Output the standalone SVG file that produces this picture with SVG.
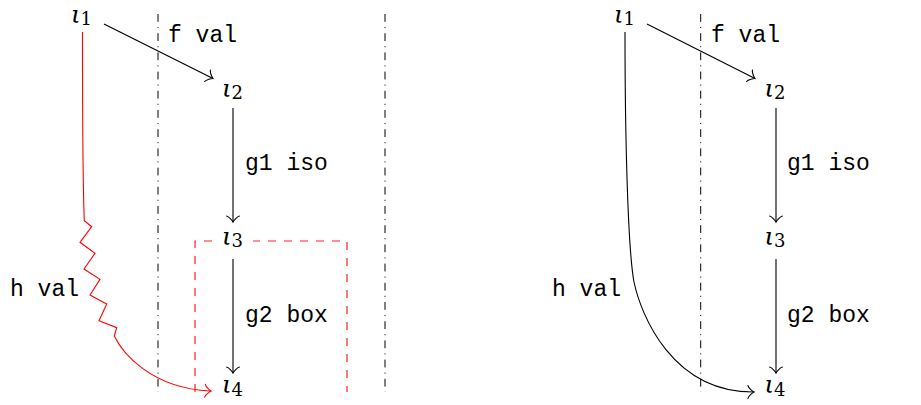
<svg xmlns="http://www.w3.org/2000/svg" width="921" height="405" viewBox="0 0 921 405">
<style>
.iota{font-family:"DejaVu Serif","Liberation Serif",serif;font-style:italic;font-size:24.5px;fill:#000}
.sub{font-family:"DejaVu Serif","Liberation Serif",serif;font-size:18px;fill:#000}
.tt{font-family:"Liberation Mono","DejaVu Sans Mono",monospace;font-size:23px;fill:#000}
.ln{fill:none;stroke:#000;stroke-width:1.1}
.red{fill:none;stroke:#ff0000;stroke-width:1.1}
.dd{fill:none;stroke:#000;stroke-width:1;stroke-dasharray:7.8 5.2 1 5.2}
.dash{fill:none;stroke:#ff2020;stroke-width:1.2;stroke-dasharray:8 8}
</style>
<defs>
<marker id="ah" markerUnits="userSpaceOnUse" orient="auto" refX="0" refY="0" markerWidth="20" markerHeight="20" overflow="visible">
<path d="M-5,-6.4 C-4.6,-4 0,-0.45 1.1,0 C0,0.45 -4.6,4 -5,6.4" fill="none" stroke="#000" stroke-width="1.1" stroke-linecap="round"/>
</marker>
<marker id="ahr" markerUnits="userSpaceOnUse" orient="auto" refX="0" refY="0" markerWidth="20" markerHeight="20" overflow="visible">
<path d="M-5,-6.4 C-4.6,-4 0,-0.45 1.1,0 C0,0.45 -4.6,4 -5,6.4" fill="none" stroke="#ff0000" stroke-width="1.1" stroke-linecap="round"/>
</marker>
</defs>
<rect width="921" height="405" fill="#fff"/>

<g id="separators">
<line class="dd" x1="158" y1="14" x2="158" y2="392"/>
<line class="dd" x1="385" y1="14" x2="385" y2="392"/>
<line class="dd" x1="700.7" y1="14" x2="700.7" y2="392"/>
</g>

<g id="box">
<path class="dash" d="M195,392 V241 H347 V392"/>
</g>

<g id="connectors">
<path class="ln" d="M104,24 L212,78" marker-end="url(#ah)"/>
<path class="ln" d="M233,108 V221" marker-end="url(#ah)"/>
<path class="ln" d="M233,259 V372" marker-end="url(#ah)"/>
<path class="red" d="M82.5,32 C82.5,120 83,190 84.3,220.7 L91.7,226.7 L80,242.3 L95,253.3 L84,269 L100,279.3 L90,295 L106.7,304 L99,320.7 L116.7,327.7 L114.3,336 C122,352 150,388 210,391" marker-end="url(#ahr)"/>
<path class="ln" d="M647,24 L754,78" marker-end="url(#ah)"/>
<path class="ln" d="M776,108 V221" marker-end="url(#ah)"/>
<path class="ln" d="M776,259 V372" marker-end="url(#ah)"/>
<path class="ln" d="M625,32 C625,140 628,250 634,282 C641,315 672,392 753,392" marker-end="url(#ah)"/>
</g>

<g id="labels">
<text class="tt" x="168" y="42">f val</text>
<text class="tt" x="245" y="170">g1 iso</text>
<text class="tt" x="245" y="322">g2 box</text>
<text class="tt" x="10" y="296">h val</text>
<text class="tt" x="711" y="42">f val</text>
<text class="tt" x="787" y="170">g1 iso</text>
<text class="tt" x="787" y="322">g2 box</text>
<text class="tt" x="552" y="296">h val</text>
</g>

<g id="l1-left"><text x="71" y="22.5"><tspan class="iota">ι</tspan><tspan class="sub" dy="2">1</tspan></text></g>
<g id="l2-left"><text x="222" y="96.5"><tspan class="iota">ι</tspan><tspan class="sub" dy="2.5">2</tspan></text></g>
<g id="l3-left"><rect x="214" y="229" width="39" height="22" fill="#fff"/><text x="222" y="244.5"><tspan class="iota">ι</tspan><tspan class="sub" dy="2.5">3</tspan></text></g>
<g id="l4-left"><text x="222" y="393"><tspan class="iota">ι</tspan><tspan class="sub" dy="2.5">4</tspan></text></g>

<g id="l1-right"><text x="614" y="22.5"><tspan class="iota">ι</tspan><tspan class="sub" dy="2">1</tspan></text></g>
<g id="l2-right"><text x="764.5" y="96.5"><tspan class="iota">ι</tspan><tspan class="sub" dy="2.5">2</tspan></text></g>
<g id="l3-right"><text x="764.5" y="244.5"><tspan class="iota">ι</tspan><tspan class="sub" dy="2.5">3</tspan></text></g>
<g id="l4-right"><text x="764.5" y="393"><tspan class="iota">ι</tspan><tspan class="sub" dy="2.5">4</tspan></text></g>
</svg>
